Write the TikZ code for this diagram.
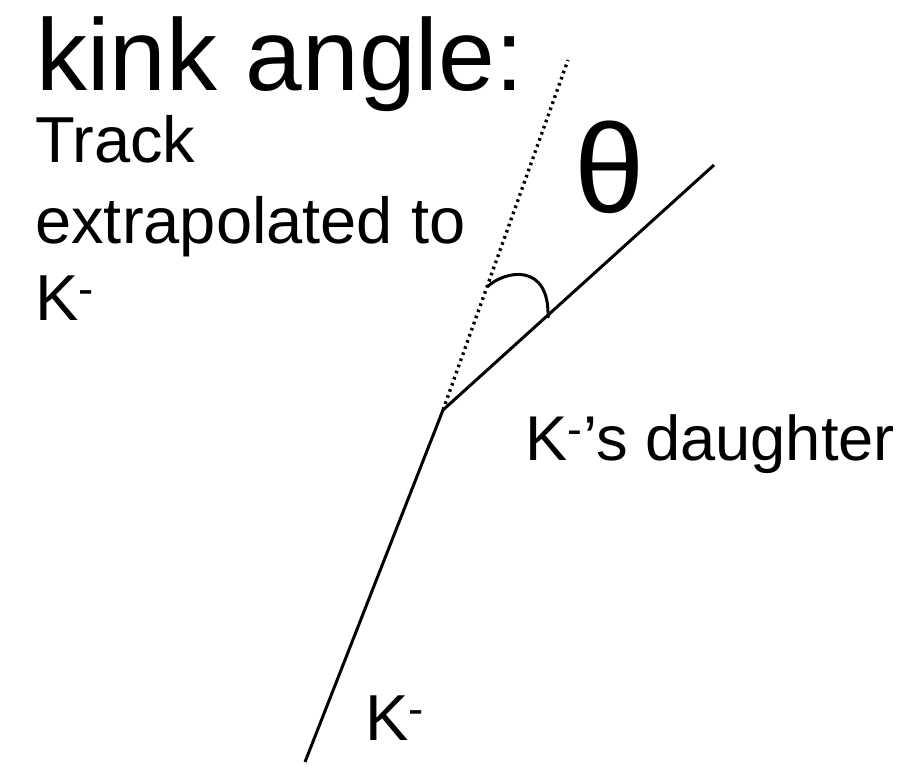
\documentclass[tikz,border=0pt]{standalone}
\usepackage{fontspec}
\setmainfont{Liberation Sans}
\tikzset{
  track/.style={line width=1.7pt},
  lbl/.style={inner sep=0pt, anchor=base west, font=\fontsize{37}{44}\selectfont}
}
\begin{document}
\begin{tikzpicture}[x=0.02cm, y=-0.02cm]
\useasboundingbox (0,0) rectangle (903,767);
\node (title) at (36, 91) [inner sep=0pt, anchor=base west, font=\fontsize{58}{66}\selectfont] {kink angle:};
\node (track) at (35, 163) [lbl] {Track};
\node (extra) at (35, 243) [lbl] {extrapolated to};
\node (kext) at (35, 320) [lbl] {K\textsuperscript{-}};
\node (theta) at (610, 167) [inner sep=0pt, font=\fontsize{72}{80}\selectfont] {θ};
\node (dlabel) at (525, 460) [lbl, font=\fontsize{36}{44}\selectfont] {K\textsuperscript{-}’s daughter};
\node (klabel) at (365, 740) [lbl] {K\textsuperscript{-}};

\coordinate (kstart) at (305, 762);
\coordinate (kink) at (443, 410);
\coordinate (dtip) at (714, 165);
\coordinate (xtip) at (568, 60);
\coordinate (arcA) at (487, 287);
\coordinate (arcB) at (548, 318);

\draw[track] (kstart) -- (kink);
\draw[track] (kink) -- (dtip);
\draw[line width=1.9pt, dash pattern=on 1.5pt off 2.2pt] (kink) -- (xtip);
\draw[track] (arcA) .. controls (505, 270) and (550, 262) .. (arcB);
\end{tikzpicture}
\end{document}
